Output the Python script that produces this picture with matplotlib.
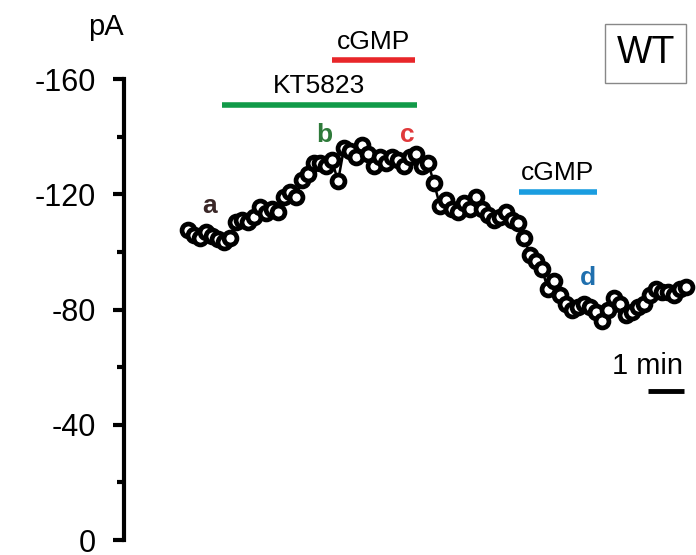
import numpy as np
import matplotlib
matplotlib.use("Agg")
import matplotlib.pyplot as plt

plt.rcParams['font.family'] = ['Liberation Sans', 'DejaVu Sans']
plt.rcParams['axes.unicode_minus'] = False

# Holding current sampled every 10 s (time in minutes)
current_pA = [
    -107.5, -106, -105, -107, -105.5, -104.5, -103.5, -105, -110.5, -111,
    -110.5, -112, -115.5, -113.5, -115, -114, -119, -121, -119, -125,
    -127, -131, -131, -130, -132, -124.5, -136, -135, -133, -137,
    -134, -130, -133, -131, -133, -132, -130, -133, -134, -130,
    -131, -124, -116, -118, -115, -114, -117, -115, -119, -115,
    -113, -111, -112, -114, -111, -110, -105, -99, -97, -94,
    -87, -90, -85, -82, -80, -81, -82, -81, -79, -76,
    -80, -84, -82, -78, -79, -81, -82, -85, -87, -86,
    -86, -85, -87, -88,
]
time_min = np.arange(len(current_pA)) / 6.0

# Drug application periods (min)
kt5823_on = (0.95, 6.35)
cgmp1_on = (4.0, 6.3)
cgmp2_on = (9.2, 11.35)

# Sample labels: (text, time, current, colour)
point_labels = [
    ("a", 0.6, -116, "#3a2727"),
    ("b", 3.8, -140.5, "#2e7a3a"),
    ("c", 6.1, -140.5, "#e0393b"),
    ("d", 11.1, -91, "#1f6fae"),
]

fig = plt.figure(figsize=(6.96, 5.55), dpi=100)
ax = fig.add_axes([0, 0, 1, 1])
ax.set_xlim(-5.22, 14.11)
ax.set_ylim(5.2, -187.5)
ax.patch.set_alpha(0)

ax.plot(time_min, current_pA, color="black", lw=1.8, marker="o", ms=9.3,
        mfc="white", mec="black", mew=3.4, zorder=3)

# Left axis only
for s in ("top", "right", "bottom"):
    ax.spines[s].set_visible(False)
ax.spines["left"].set_position(("data", -1.78))
ax.spines["left"].set_bounds(0, -160)
ax.spines["left"].set_linewidth(3)
ax.set_yticks([0, -40, -80, -120, -160])
ax.set_yticklabels(["0", "-40", "-80", "-120", "-160"])
ax.set_yticks([-20, -60, -100, -140], minor=True)
ax.tick_params(axis="y", which="major", length=8, width=3, labelsize=22, pad=12)
ax.tick_params(axis="y", which="minor", length=5, width=3)
ax.set_xticks([])
ax.text(-2.28, -178, "pA", fontsize=21, ha="center", va="center")

# Application bars
bar_specs = [
    (kt5823_on, -151, "KT5823", "#119a48"),
    (cgmp1_on, -166.5, "cGMP", "#e8262a"),
    (cgmp2_on, -121, "cGMP", "#1a9de0"),
]
for (t0, t1), y, name, col in bar_specs:
    ax.plot([t0, t1], [y, y], color=col, lw=4, solid_capstyle="butt")
    ax.text((t0 + t1) / 2, y - 6.5, name, fontsize=19, ha="center", va="center")

for txt, t, v, col in point_labels:
    ax.text(t, v, txt, fontsize=19, fontweight="bold", color=col,
            ha="center", va="center")

# Time scale bar
ax.plot([12.78, 13.78], [-51.7, -51.7], color="black", lw=3.5,
        solid_capstyle="butt")
ax.text(12.75, -60.4, "1 min", fontsize=21, ha="center", va="center")

# Genotype box
fig.text(0.928, 0.904, "WT", fontsize=27, ha="center", va="center",
         bbox=dict(boxstyle="square,pad=0.3", fc="white", ec="#888888", lw=1))

fig.savefig("out.png", dpi=100)
